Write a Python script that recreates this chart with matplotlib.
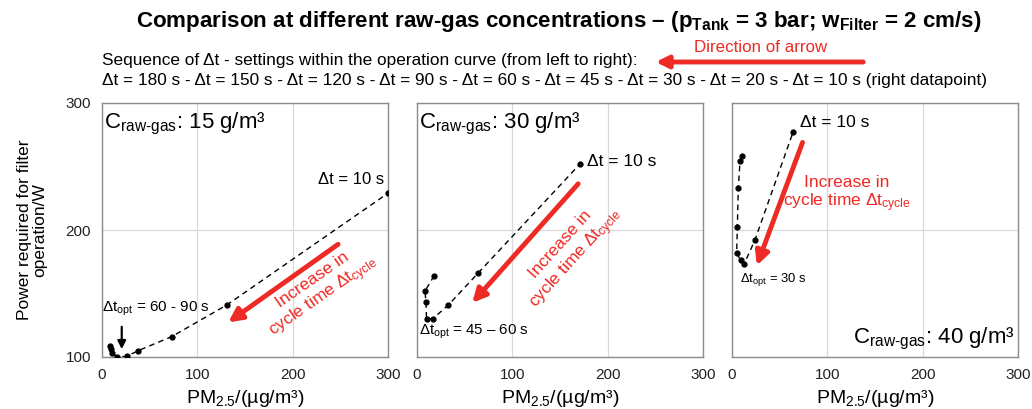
import matplotlib
matplotlib.use("Agg")
import matplotlib.pyplot as plt
import numpy as np

plt.rcParams['font.family'] = ['Liberation Sans', 'DejaVu Sans']
plt.rcParams['mathtext.fontset'] = 'custom'
plt.rcParams['mathtext.rm'] = 'Liberation Sans'
plt.rcParams['mathtext.it'] = 'Liberation Sans:italic'
plt.rcParams['mathtext.bf'] = 'Liberation Sans:bold'

# ---------------- data ----------------
# points ordered as in the sequence dt = 180 s ... 10 s (right datapoint)
pm_15 = [8, 9, 11, 16, 26, 38, 73, 131, 300]
pw_15 = [109, 106, 103, 100, 100.5, 105, 116, 141, 229]

pm_30 = [18, 8.4, 9.4, 10, 16.4, 33, 64, 171]
pw_30 = [164, 152, 143, 130, 130, 141, 166, 252]

pm_40 = [10.2, 8.4, 6.6, 5.6, 4.9, 9.1, 12.6, 24, 64]
pw_40 = [258, 254, 233, 202, 182, 176, 173, 192, 277]

ticks = [0, 100, 200, 300]
red = '#ee2a24'

fig = plt.figure(figsize=(10.32, 4.09), dpi=100)

lefts = [102 / 1032, 417 / 1032, 732 / 1032]
axs = [fig.add_axes([l, 52 / 409, 286 / 1032, 254 / 409]) for l in lefts]

for ax, xs, ys in zip(axs, [pm_15, pm_30, pm_40], [pw_15, pw_30, pw_40]):
    ax.plot(xs, ys, color='black', ls=(0, (4, 3)), lw=1.0,
            marker='o', ms=3.5, zorder=3)
    ax.set_xlim(0, 300)
    ax.set_ylim(100, 300)
    ax.set_xticks(ticks)
    ax.set_yticks(ticks[1:])
    ax.grid(True, color='#d9d9d9', lw=0.9)
    ax.set_axisbelow(True)
    for s in ax.spines.values():
        s.set_color('#8c8c8c')
        s.set_linewidth(1.0)
    ax.tick_params(length=0, labelsize=11, colors='#222222', pad=8)
    ax.set_xlabel('PM$_{2.5}$/(µg/m³)', fontsize=14, labelpad=4)

axs[1].set_yticklabels([])
axs[2].set_yticklabels([])
axs[0].set_ylabel('Power required for filter\noperation/W', fontsize=12.5,
                  labelpad=13, linespacing=1.0)

craw = r'C$_{\mathrm{raw\text{-}gas}}$: '

# panel 1
a = axs[0]
a.text(2, 294, craw + '15 g/m³', fontsize=16, va='top', ha='left')
a.text(296, 234, 'Δt = 10 s', fontsize=12, ha='right', va='bottom')
a.text(0, 138, r'Δt$_{\mathrm{opt}}$ = 60 - 90 s', fontsize=11, ha='left', va='center')
a.annotate('', xy=(20.7, 104), xytext=(20.7, 126),
           arrowprops=dict(arrowstyle='-|>', color='black', lw=1.6, mutation_scale=12))
a.annotate('', xy=(130, 126), xytext=(250, 190),
           arrowprops=dict(arrowstyle='-|>', color=red, lw=3.5, mutation_scale=20))
a.text(228, 153, 'Increase in\ncycle time Δt$_{\mathrm{cycle}}$', color=red, fontsize=12.5,
       rotation=35, ha='center', va='center', rotation_mode='anchor', linespacing=1.15)

# panel 2
a = axs[1]
a.text(2, 294, craw + '30 g/m³', fontsize=16, va='top', ha='left')
a.text(178, 254, 'Δt = 10 s', fontsize=12.5, ha='left', va='center')
a.text(2, 120, r'Δt$_{\mathrm{opt}}$ = 45 – 60 s', fontsize=10.8, ha='left', va='center')
a.annotate('', xy=(56, 141), xytext=(171, 238),
           arrowprops=dict(arrowstyle='-|>', color=red, lw=3.5, mutation_scale=20))
a.text(160, 182, 'Increase in\ncycle time Δt$_{\mathrm{cycle}}$', color=red, fontsize=12.5,
       rotation=48, ha='center', va='center', rotation_mode='anchor', linespacing=1.15)

# panel 3
a = axs[2]
a.text(297, 104, craw + '40 g/m³', fontsize=16, va='bottom', ha='right')
a.text(71, 285, 'Δt = 10 s', fontsize=12.5, ha='left', va='center')
a.text(8, 161, r'Δt$_{\mathrm{opt}}$ = 30 s', fontsize=9.4, ha='left', va='center')
a.annotate('', xy=(25, 170), xytext=(75, 271),
           arrowprops=dict(arrowstyle='-|>', color=red, lw=3.5, mutation_scale=20))
a.text(120, 228, 'Increase in\ncycle time Δt$_{\mathrm{cycle}}$', color=red, fontsize=12.5,
       ha='center', va='center', linespacing=1.15)

# header
fig.text(559 / 1032, 1 - 22 / 409,
         r'Comparison at different raw-gas concentrations – (p$_{\mathbf{Tank}}$ = 3 bar; '
         r'w$_{\mathbf{Filter}}$ = 2 cm/s)',
         fontsize=16.1, fontweight='bold', ha='center', va='center')
fig.text(761 / 1032, 1 - 47 / 409, 'Direction of arrow', color=red, fontsize=12.2,
         ha='center', va='center')
fig.text(102 / 1032, 1 - 61 / 409,
         'Sequence of Δt - settings within the operation curve (from left to right):',
         fontsize=12.4, ha='left', va='center')
fig.text(102 / 1032, 1 - 81 / 409,
         'Δt = 180 s - Δt = 150 s - Δt = 120 s - Δt = 90 s - Δt = 60 s - Δt = 45 s - '
         'Δt = 30 s - Δt = 20 s - Δt = 10 s (right datapoint)',
         fontsize=12.4, ha='left', va='center')
plt.annotate('', xy=(653, 347), xytext=(866, 347), xycoords='figure pixels',
             arrowprops=dict(arrowstyle='-|>', color=red, lw=3.5, mutation_scale=18))

fig.savefig('out.png', dpi=100)
